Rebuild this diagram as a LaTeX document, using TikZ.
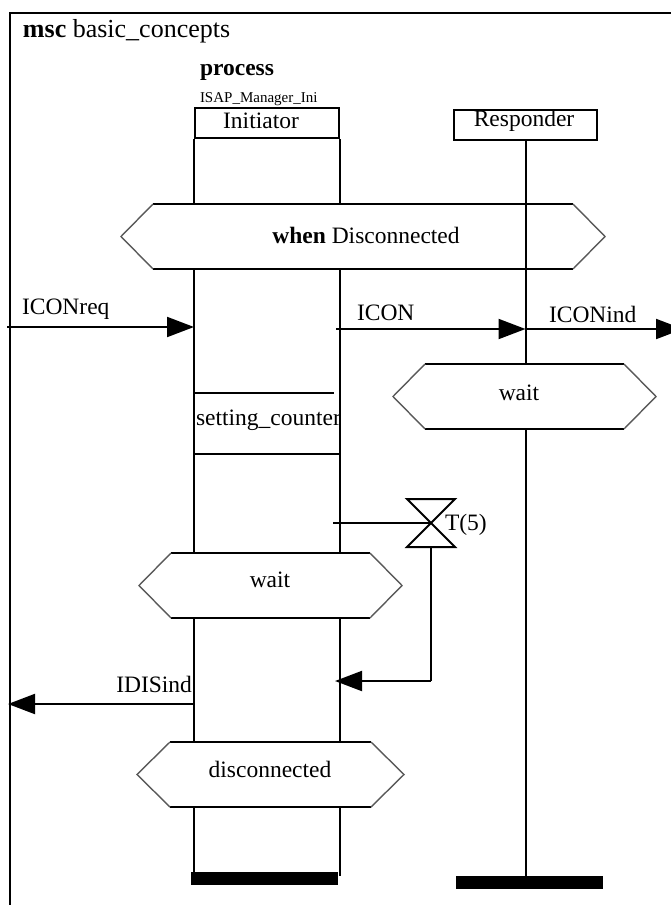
\documentclass[tikz,border=0pt]{standalone}
\usepackage{fontspec}
\setmainfont{Liberation Serif}
\usetikzlibrary{arrows.meta}
\newcommand\msccond[7]{% name, ytop, ybot, xleft, xright, inset, text
  \draw (#4+#6,#2) -- (#5-#6,#2);
  \draw (#4+#6,#3) -- (#5-#6,#3);
  \draw[diag] (#4+#6,#2) -- (#4,{(#2+#3)/2}) -- (#4+#6,#3);
  \draw[diag] (#5-#6,#2) -- (#5,{(#2+#3)/2}) -- (#5-#6,#3);
}
\begin{document}
\begin{tikzpicture}[x=1pt,y=-1pt,line width=2pt,
  txt/.style={font=\fontsize{23.5}{28}\selectfont,inner sep=0pt},
  msg/.style={-{Triangle[length=27pt,width=20pt]}},
  diag/.style={line width=1.4pt,draw=black!65},
  endbar/.style={fill=black,draw=none,inner sep=0pt,anchor=north west}]
\useasboundingbox (0,0) rectangle (670,905);

% frame
\coordinate (fbl) at (10,906);
\coordinate (ftl) at (10,13);
\coordinate (ftr) at (671,13);
\draw[line width=2.5pt] (fbl) -- (ftl) -- (ftr);
\node[anchor=base west,inner sep=0pt,font=\fontsize{26}{30}\selectfont] (title) at (22,37) {\textbf{msc} basic\_concepts};

% instance heads
\node[txt,anchor=base west] (proc) at (199,75) {\textbf{process}};
\node[anchor=base west,inner sep=0pt,font=\fontsize{15}{18}\selectfont] (isap) at (199,102) {ISAP\_Manager\_Ini};
\node[draw,minimum width=144pt,minimum height=30pt,inner sep=0pt,anchor=north west] (ini) at (194,107) {};
\node[txt,anchor=base] (initxt) at (261,128) {Initiator};
\node[draw,minimum width=143pt,minimum height=30pt,inner sep=0pt,anchor=north west] (resp) at (453,109) {};
\node[txt,anchor=base] (resptxt) at (524,126) {Responder};

% condition levels
\coordinate (c1t) at (0,204); \coordinate (c1b) at (0,269);
\coordinate (c2t) at (0,364); \coordinate (c2b) at (0,429);
\coordinate (c3t) at (0,553); \coordinate (c3b) at (0,618);
\coordinate (c4t) at (0,742); \coordinate (c4b) at (0,807);
\coordinate (iend) at (0,873);
\coordinate (rend) at (0,876);

% conditions
\msccond{cond1}{204}{269}{121}{605}{32}{}
\node[txt,anchor=base] (cond1) at (366,243) {\textbf{when} Disconnected};
\msccond{cond2}{364}{429}{393}{656}{32}{}
\node[txt,anchor=base] (cond2) at (519,400) {wait};
\msccond{cond3}{553}{618}{139}{402}{32}{}
\node[txt,anchor=base] (cond3) at (270,587) {wait};
\msccond{cond4}{742}{807}{137}{404}{33}{}
\node[txt,anchor=base] (cond4) at (270,777) {disconnected};

% lifelines
\draw (ini.south west) -- (ini.south west |- c1t);
\draw (ini.south west |- c1b) -- (ini.south west |- c3t);
\draw (ini.south west |- c3b) -- (ini.south west |- c4t);
\draw (ini.south west |- c4b) -- (ini.south west |- iend);
\draw (ini.south east) -- (ini.south east |- c1t);
\draw (ini.south east |- c1b) -- (ini.south east |- c3t);
\draw (ini.south east |- c3b) -- (ini.south east |- c4t);
\draw (ini.south east |- c4b) -- (ini.south east |- rend);
\draw (resp.south) -- (resp.south |- c2t);
\draw (resp.south |- c2b) -- (resp.south |- rend);
\node[endbar,minimum width=147pt,minimum height=13pt] (ibar) at (190,871) {};
\node[endbar,minimum width=147pt,minimum height=13pt] (rbar) at (455,875) {};

% action
\node[txt,anchor=base west] (act) at (195,425) {setting\_counter};
\coordinate (a1) at (194,393); \coordinate (a1e) at (334,393);
\coordinate (a2) at (194,454); \coordinate (a2e) at (340,454);
\draw (a1) -- (a1e);
\draw (a2) -- (a2e);

% messages
\coordinate (env1) at (7,327);
\draw[msg] (env1) -- (env1 -| ini.south west);
\node[txt,anchor=base west] (lreq) at (21,314) {ICONreq};
\coordinate (s2) at (336,329);
\draw[msg] (s2) -- (s2 -| resp.south);
\node[txt,anchor=base west] (licon) at (356,320) {ICON};
\coordinate (env2) at (683,329);
\draw[msg] (s2 -| resp.south) -- (env2);
\node[txt,anchor=base west] (lind) at (548,322) {ICONind};

% timer
\coordinate (tm) at (431,523);
\coordinate (tstart) at (333,523);
\draw (tstart) -- (tm);
\draw (407,499) -- (455,499) -- (407,547) -- (455,547) -- cycle;
\node[txt,anchor=base west] (ltm) at (444,530) {T(5)};
\coordinate (tb) at (431,547);
\coordinate (tc) at (431,681);
\coordinate (tend) at (335,681);
\draw (tb) -- (tc);
\draw[msg] (tc) -- (tend);

% IDISind
\coordinate (s4) at (194,704);
\coordinate (env3) at (8,704);
\draw[msg] (s4) -- (env3);
\node[txt,anchor=base east] (ldis) at (193,692) {IDISind};
\end{tikzpicture}
\end{document}
